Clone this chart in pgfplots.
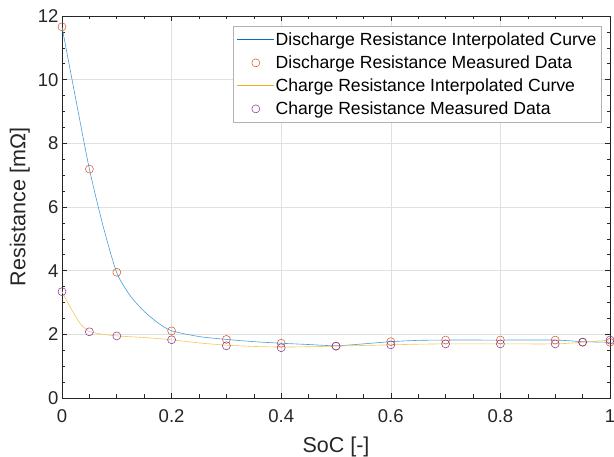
\documentclass[border=0pt]{standalone}
\usepackage{pgfplots}
\pgfplotsset{compat=1.18}
\usepackage{pgfplotstable}
\usepackage{fontspec}
\setmainfont{Liberation Sans}
\definecolor{mblue}{rgb}{0,0.447,0.741}
\definecolor{morange}{rgb}{0.851,0.325,0.098}
\definecolor{myellow}{rgb}{0.929,0.694,0.125}
\definecolor{mpurple}{rgb}{0.494,0.184,0.556}
\definecolor{cblue}{rgb}{0.30,0.62,0.85}
\definecolor{cyellow}{rgb}{0.96,0.78,0.35}
\pgfplotsset{legend image code/.code={\draw[mark repeat=2,mark phase=2,#1] plot coordinates {(0pt,0pt) (18.5pt,0pt) (37pt,0pt)};}}

\pgfplotstableread{
x y
0 11.66
0.05 7.19
0.1 3.95
0.2 2.11
0.3 1.84
0.4 1.72
0.5 1.63
0.6 1.77
0.7 1.82
0.8 1.82
0.9 1.82
0.95 1.76
1 1.75
}\dismeas

\pgfplotstableread{
x y
0 3.34
0.05 2.08
0.1 1.95
0.2 1.83
0.3 1.64
0.4 1.58
0.5 1.63
0.6 1.67
0.7 1.70
0.8 1.70
0.9 1.70
0.95 1.75
1 1.82
}\chmeas

\pgfplotstableread{
x y
0 11.66
0.025 9.40
0.05 7.19
0.075 5.40
0.1 3.93
0.125 3.20
0.15 2.72
0.175 2.36
0.2 2.11
0.25 1.93
0.3 1.84
0.35 1.77
0.4 1.72
0.45 1.68
0.5 1.64
0.55 1.70
0.6 1.77
0.65 1.81
0.7 1.82
0.8 1.82
0.9 1.82
0.95 1.77
1 1.75
}\discurve

\pgfplotstableread{
x y
0 3.34
0.02 2.70
0.035 2.30
0.05 2.09
0.075 2.00
0.1 1.95
0.15 1.90
0.2 1.83
0.25 1.73
0.3 1.66
0.35 1.62
0.4 1.60
0.45 1.61
0.5 1.63
0.55 1.65
0.6 1.67
0.65 1.69
0.7 1.70
0.8 1.70
0.9 1.70
0.95 1.75
1 1.82
}\chcurve

\begin{document}
\begin{tikzpicture}
\useasboundingbox (-62pt,-59pt) rectangle (552pt,398pt);
\begin{axis}[
  scale only axis, width=548pt, height=382pt,
  xmin=0, xmax=1, ymin=0, ymax=12,
  xtick={0,0.2,0.4,0.6,0.8,1}, ytick={0,2,4,6,8,10,12},
  minor x tick num=3, minor y tick num=3,
  tick align=inside, major tick length=5pt, minor tick length=3.5pt,
  grid=major, major grid style={black!12, line width=0.6pt},
  axis line style={black!85, line width=0.8pt},
  every tick/.style={black!85, line width=0.6pt},
  /pgf/number format/assume math mode=true,
  tick label style={font=\fontsize{18.5}{20}\selectfont, text=black!85},
  xticklabel style={yshift=-8pt},
  xlabel={SoC [-]}, ylabel={Resistance [mΩ]},
  label style={font=\fontsize{21.5}{24}\selectfont, text=black!85},
  xlabel style={at={(axis description cs:0.5,-0.128)}, anchor=center},
  ylabel style={at={(axis description cs:-0.077,0.5)}, anchor=center},
  legend cell align=left,
  legend style={at={(0.985,0.974)}, anchor=north east, draw=gray!60, fill=white,
    font=\fontsize{17.6}{20}\selectfont, row sep=3.5pt, inner sep=4pt,
    nodes={inner sep=1pt, text height=14pt, text depth=3.5pt}},
]
\addplot[cblue, line width=0.6pt, smooth, tension=0.4, forget plot] table[x=x,y=y] {\discurve};
\addlegendimage{mblue, line width=0.8pt}
\addlegendentry{Discharge Resistance Interpolated Curve}
\addplot[only marks, mark=o, mark size=4pt, morange, line width=0.5pt] table[x=x,y=y] {\dismeas};
\addlegendentry{Discharge Resistance Measured Data}
\addplot[cyellow, line width=0.6pt, smooth, tension=0.4, forget plot] table[x=x,y=y] {\chcurve};
\addlegendimage{myellow, line width=0.8pt}
\addlegendentry{Charge Resistance Interpolated Curve}
\addplot[only marks, mark=o, mark size=4pt, mpurple, line width=0.5pt] table[x=x,y=y] {\chmeas};
\addlegendentry{Charge Resistance Measured Data}
\end{axis}
\end{tikzpicture}
\end{document}
